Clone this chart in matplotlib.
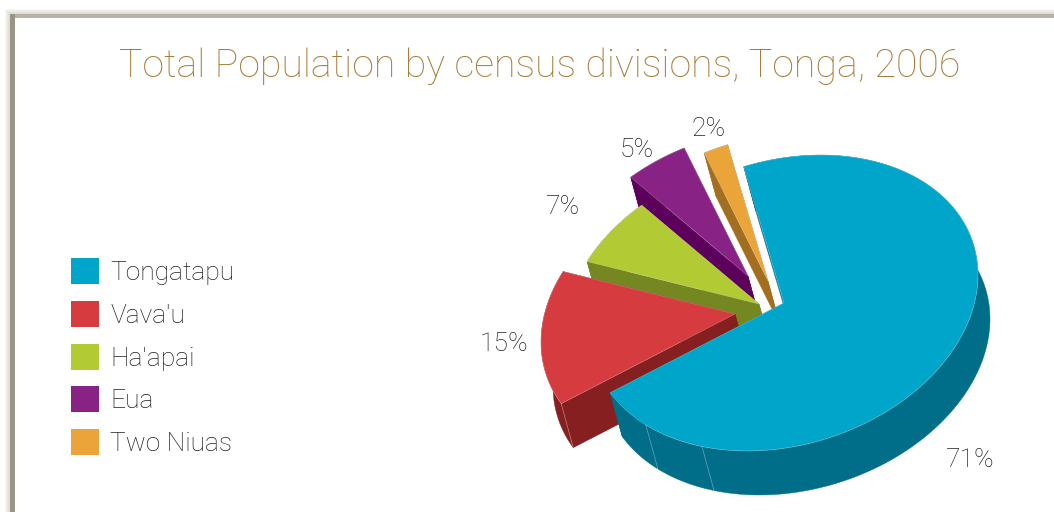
import numpy as np
import matplotlib
matplotlib.use('Agg')
import matplotlib.pyplot as plt
from matplotlib.patches import Patch, Polygon, Rectangle

# data
divisions = ['Tongatapu', "Vava'u", "Ha'apai", 'Eua', 'Two Niuas']
shares = [71, 15, 7, 5, 2]
top_colors = ['#00A6CA', '#D63B3F', '#B2CB35', '#882284', '#EBA43A']
wall_colors = ['#006E89', '#861F20', '#748721', '#5C005B', '#A26F20']

# pie geometry, in pixels of the 1054x512 picture
apex_x = [784, 735, 759, 748, 768]
apex_y = [303, 314, 304, 276, 281]
label_x = [970, 504, 563, 637, 709]
label_y = [460, 344, 207, 150, 129]
shift = np.array([12, 44])
start_angle = 102


def rim(cx, cy, t):
    # the tilted ellipse of the pie top
    t = np.radians(t)
    x = cx + 194 * np.cos(t)
    y = cy - 28 * np.cos(t) - 145.3 * np.sin(t)
    return np.column_stack([x, y])


plt.rcParams['font.family'] = ['Roboto', 'DejaVu Sans']

fig = plt.figure(figsize=(10.54, 5.12), dpi=100)
ax = fig.add_axes([0, 0, 1, 1])
ax.set_xlim(0, 1054)
ax.set_ylim(512, 0)
ax.axis('off')

# paper frame with soft shadow
for i in range(5):
    ax.add_patch(Rectangle((9 - i, 13 - i), 1100, 600, fc='#B8B2A4', ec='none', alpha=0.10))
ax.add_patch(Rectangle((10, 14), 1100, 600, fc='#B8B2A4', ec='none'))
ax.add_patch(Rectangle((10, 14), 5, 600, fc='#9A9585', ec='none'))
ax.add_patch(Rectangle((15, 18), 1100, 600, fc='white', ec='none'))

ax.text(540, 77, 'Total Population by census divisions, Tonga, 2006', color='#A87C38',
        fontsize=28.3, fontweight='light', ha='center', va='baseline')

# slice angles run clockwise from the start angle
ends = start_angle - 3.6 * np.cumsum(shares)
starts = ends + 3.6 * np.array(shares)

# back to front: the small slices first, Tongatapu last
for i in range(len(shares) - 1, -1, -1):
    apex = np.array([apex_x[i], apex_y[i]])
    arc = rim(apex_x[i], apex_y[i], np.linspace(starts[i], ends[i], 200))
    band = np.vstack([arc, (arc + shift)[::-1]])
    ax.add_patch(Polygon(band, fc=wall_colors[i], ec=wall_colors[i], lw=0.3))
    for p in (arc[0], arc[-1]):
        face = [apex, p, p + shift, apex + shift]
        ax.add_patch(Polygon(face, fc=wall_colors[i], ec=wall_colors[i], lw=0.3))
    ax.add_patch(Polygon(np.vstack([apex, arc]), fc=top_colors[i], ec='none'))
    ax.plot(*np.vstack([arc, apex, arc[0]]).T, color='white', lw=0.4, alpha=0.35)

# pale seams on the outer walls
seams = [(0, 224.6), (0, 245), (1, ends[1] + 54)]
for i, t in seams:
    p = rim(apex_x[i], apex_y[i], [t])[0]
    ax.plot([p[0], p[0] + shift[0]], [p[1], p[1] + shift[1]], color='white', lw=0.5, alpha=0.4)

for i in range(len(shares)):
    ax.text(label_x[i], label_y[i], '%d%%' % shares[i], color='#222222', fontsize=19,
            fontweight='light', ha='center', va='center')

handles = [Patch(fc=c, ec='none') for c in top_colors]
ax.legend(handles, divisions, loc='upper left', bbox_to_anchor=(71, 258), bbox_transform=ax.transData,
          frameon=False, labelcolor='#222222', prop={'size': 19, 'weight': 'light'},
          handlelength=1.06, handleheight=1.14, handletextpad=0.42, labelspacing=0.6,
          borderpad=0, borderaxespad=0)

fig.savefig('out.png', dpi=100)
plt.close()
